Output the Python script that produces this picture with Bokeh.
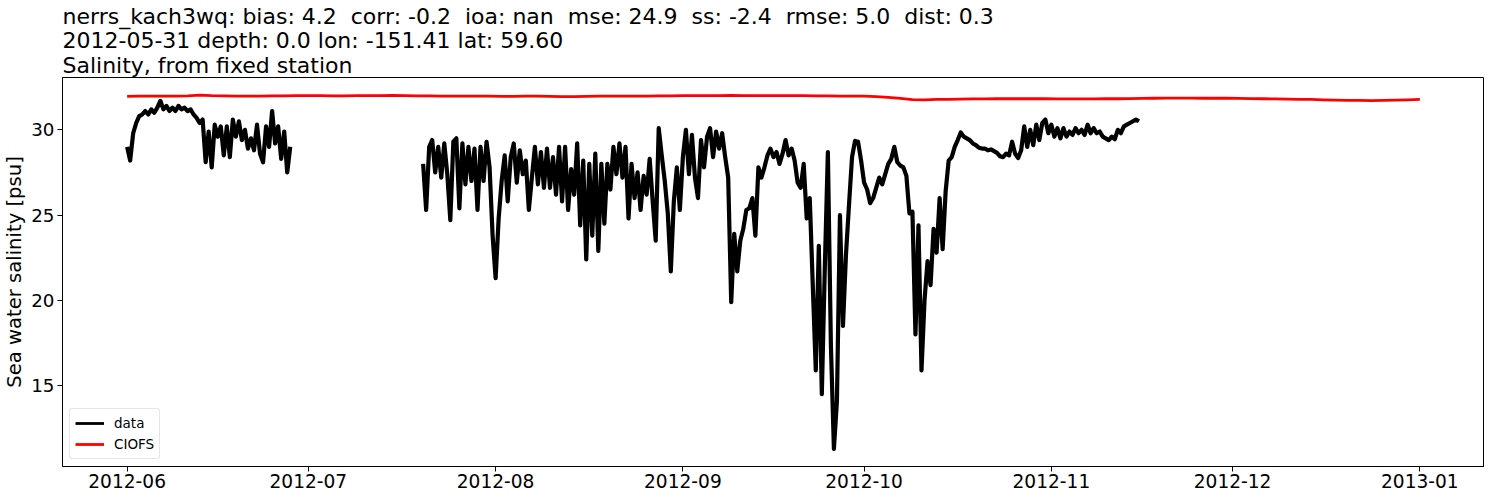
import numpy as np
import pandas as pd
from bokeh.plotting import figure
from bokeh.models import (Range1d, FixedTicker, DatetimeTickFormatter, Legend,
                          LegendItem)
from bokeh.embed import file_html
from bokeh.resources import INLINE

# ---------------- data ----------------
NB = "\u00a0"  # keeps the doubled spaces of the original title visible
title_lines = [
    f"nerrs_kach3wq: bias: 4.2 {NB}corr: -0.2 {NB}ioa: nan {NB}mse: 24.9 {NB}ss: -2.4 {NB}rmse: 5.0 {NB}dist: 0.3",
    "2012-05-31 depth: 0.0 lon: -151.41 lat: 59.60",
    "Salinity, from fixed station",
]
y_label = "Sea water salinity [psu]"
series_names = ["data", "CIOFS"]

# observed salinity, first deployment, 12-hourly from this start
obs1_start = "2012-06-01 00:00"
obs1_values = [
    29.0, 28.2, 29.8, 30.4, 30.8, 30.9, 31.1, 30.9, 31.2, 31.0,
    31.3, 31.7, 31.2, 31.4, 31.1, 31.3, 31.1, 31.4, 31.2, 31.3,
    31.1, 31.2, 30.9, 30.7, 30.4, 30.6, 28.1, 29.9, 27.8, 30.3,
    29.6, 30.2, 28.5, 30.2, 28.4, 30.6, 29.6, 30.5, 29.4, 30.0,
    28.9, 29.5, 28.8, 30.3, 28.6, 28.1, 30.2, 29.0, 31.1, 29.2,
    30.2, 28.3, 29.9, 27.5, 29.0,
]

# observed salinity, second deployment, 12-hourly from this start
obs2_start = "2012-07-20 00:00"
obs2_values = [
    28.0, 25.3, 29.0, 29.4, 27.5, 29.0, 27.2, 29.2, 27.4, 24.7,
    29.3, 29.5, 25.4, 29.2, 26.8, 29.0, 27.0, 28.9, 25.3, 29.0,
    27.0, 29.3, 27.8, 23.8, 21.3, 24.8, 27.0, 28.5, 25.8, 28.4,
    29.2, 26.9, 28.8, 27.4, 28.2, 25.3, 27.2, 29.0, 26.8, 28.7,
    26.6, 28.9, 26.6, 28.4, 26.2, 29.0, 25.8, 29.0, 25.3, 27.7,
    26.2, 29.2, 24.4, 28.2, 22.4, 28.0, 23.8, 28.6, 22.9, 28.0,
    24.5, 28.0, 26.5, 29.0, 27.4, 29.2, 27.2, 29.0, 24.8, 28.0,
    26.0, 27.5, 25.3, 27.3, 26.2, 28.3, 25.8, 23.5, 30.1, 28.5,
    27.0, 25.1, 21.7, 25.8, 27.8, 25.3, 28.4, 30.0, 27.4, 29.7,
    27.2, 26.0, 29.4, 27.8, 29.6, 30.1, 28.4, 29.9, 28.9, 29.8,
    28.4, 27.2, 19.9, 23.9, 21.7, 23.5, 24.2, 25.3, 25.4, 26.0,
    23.8, 27.8, 27.2, 27.8, 28.5, 28.9, 28.4, 28.7, 28.0, 28.6,
    29.4, 28.5, 28.9, 28.2, 26.9, 26.6, 28.0, 24.8, 26.0, 20.9,
    15.9, 23.2, 14.5, 22.0, 28.7, 17.4, 11.3, 14.1, 25.0, 18.5,
    22.7, 25.6, 28.4, 29.35, 29.3, 28.2, 26.9, 26.5, 25.7, 26.0,
    26.6, 27.2, 26.8, 27.4, 28.0, 28.3, 29.0, 28.1, 27.9, 27.8,
    27.3, 25.1, 25.2, 18.0, 24.4, 15.9, 20.0, 22.3, 20.9, 24.2,
    22.8, 26.0, 23.0, 26.4, 28.2, 28.4, 29.0, 29.4, 29.84, 29.6,
    29.5, 29.4, 29.2, 29.1, 28.95, 28.9, 28.9, 28.8, 28.85, 28.75,
    28.65, 28.45, 28.4, 28.6, 28.5, 29.3, 28.6, 28.35, 28.8, 30.2,
    29.0, 30.0, 29.1, 30.3, 29.4, 30.4, 30.6, 29.8, 30.3, 29.6,
    30.1, 29.5, 30.1, 29.6, 29.9, 29.7, 30.1, 29.8, 30.0, 29.7,
    30.3, 29.8, 30.1, 29.8, 29.9, 29.6, 29.5, 29.4, 29.6, 29.45,
    30.0, 29.8, 30.2, 30.3, 30.4, 30.5, 30.6, 30.5,
]

# CIOFS model salinity, every 2 days from this start
ciofs_start = "2012-06-01 00:00"
ciofs_values = [
    31.96, 31.97, 31.97, 31.98, 31.98, 31.99,
    32.03, 32.0, 31.99, 31.98, 31.98,
    31.98, 31.99, 31.99, 32.0, 32.0, 32.0, 31.99, 31.99, 32.0, 32.0,
    32.0, 32.01, 32.0, 31.99, 31.99, 31.98, 31.98, 31.97, 31.97, 31.97,
    31.96, 31.96, 31.97, 31.97, 31.96, 31.95, 31.95, 31.96, 31.97, 31.97,
    31.97, 31.98, 31.98, 31.99, 31.99,
    32.0, 32.0, 32.0, 32.0, 32.01, 32.0, 32.0, 32.0, 32.0, 32.0,
    32.0, 31.99, 31.99, 31.98, 31.97,
    31.97, 31.94, 31.9, 31.84, 31.77, 31.76, 31.78, 31.79,
    31.8, 31.81, 31.81, 31.82, 31.82, 31.82, 31.82, 31.82, 31.81, 31.81,
    31.81, 31.81, 31.82, 31.82, 31.83, 31.84, 31.85, 31.86, 31.86, 31.86,
    31.85, 31.85,
    31.85, 31.84, 31.83, 31.82, 31.81, 31.8, 31.79, 31.78, 31.76, 31.74,
    31.72, 31.73, 31.71, 31.72, 31.74, 31.76, 31.79,
]

y_ticks = [15, 20, 25, 30]
month_start, month_end = "2012-06-01", "2013-01-01"

# ---------------- build ----------------
def to_ms(idx):
    return (idx - pd.Timestamp("1970-01-01")) / pd.Timedelta(milliseconds=1)

t1 = to_ms(pd.date_range(obs1_start, periods=len(obs1_values), freq="12h")).to_numpy()
t2 = to_ms(pd.date_range(obs2_start, periods=len(obs2_values), freq="12h")).to_numpy()
tc = to_ms(pd.date_range(ciofs_start, periods=len(ciofs_values), freq="2D")).to_numpy()

x_obs = np.concatenate([t1, [t1[-1] + 6 * 3600e3], t2])
y_obs = np.concatenate([obs1_values, [np.nan], obs2_values])

all_x = np.concatenate([t1, t2, tc])
all_y = np.concatenate([obs1_values, obs2_values, ciofs_values])
xpad = 0.05 * (all_x.max() - all_x.min())
ypad = 0.05 * (all_y.max() - all_y.min())

FONT = "DejaVu Sans"

p = figure(width=1484, height=490, output_backend="svg", toolbar_location=None,
           x_axis_type="datetime",
           x_range=Range1d(all_x.min() - xpad, all_x.max() + xpad),
           y_range=Range1d(all_y.min() - ypad, all_y.max() + ypad),
           min_border_left=55, min_border_right=0, min_border_top=77,
           min_border_bottom=20)
p.background_fill_color = "white"
p.border_fill_color = "white"
p.outline_line_color = "black"
p.outline_line_width = 1
p.grid.visible = False

p.title.text = "\n".join(title_lines)
p.title.align = "left"
p.title.text_font = FONT
p.title.text_font_size = "22px"
p.title.text_font_style = "normal"
p.title.text_color = "black"
p.title.standoff = 0
p.title.text_line_height = 0.98

r_obs = p.line(x_obs, y_obs, color="black", line_width=4.2, line_join="round")
r_mod = p.line(tc, ciofs_values, color="red", line_width=2.8, line_join="round")
# legend swatches drawn at matplotlib's default thickness (no visible data)
leg_obs = p.line([tc[0]], [np.nan], color="black", line_width=2.8)
leg_mod = p.line([tc[0]], [np.nan], color="red", line_width=2.8)

months = to_ms(pd.date_range(month_start, month_end, freq="MS")).to_numpy()
p.xaxis.ticker = FixedTicker(ticks=list(months))
fmt = "%Y-%m"
p.xaxis.formatter = DatetimeTickFormatter(
    microseconds=fmt, milliseconds=fmt, seconds=fmt, minsec=fmt, minutes=fmt,
    hourmin=fmt, hours=fmt, days=fmt, months=fmt, years=fmt)
p.yaxis.ticker = FixedTicker(ticks=y_ticks)

for ax in (p.xaxis, p.yaxis):
    ax.axis_line_color = "black"
    ax.major_tick_line_color = "black"
    ax.major_tick_out = 5
    ax.major_tick_in = 0
    ax.minor_tick_out = 0
    ax.minor_tick_in = 0
    ax.major_label_text_font = FONT
    ax.major_label_text_color = "black"

p.xaxis.major_label_text_font_size = "18.6px"
p.xaxis.major_label_text_line_height = 1.0
p.xaxis.major_label_standoff = 2
p.yaxis.major_label_text_font_size = "18.3px"
p.yaxis.major_label_standoff = 3
p.yaxis.axis_label = y_label
p.yaxis.axis_label_text_font = FONT
p.yaxis.axis_label_text_font_size = "19.6px"
p.yaxis.axis_label_text_font_style = "normal"
p.yaxis.axis_label_text_color = "black"
p.yaxis.axis_label_text_line_height = 1.0
p.yaxis.axis_label_standoff = 2

legend = Legend(items=[LegendItem(label=series_names[0], renderers=[leg_obs]),
                       LegendItem(label=series_names[1], renderers=[leg_mod])],
                location="bottom_left")
legend.margin = 7
legend.padding = 5
legend.spacing = 3
legend.glyph_width = 29
legend.glyph_height = 18
legend.label_height = 18
legend.label_standoff = 10
legend.label_text_font = FONT
legend.label_text_font_size = "13.5px"
legend.label_text_color = "black"
legend.border_line_color = "#cccccc"
legend.border_line_width = 1
legend.background_fill_color = "white"
legend.background_fill_alpha = 0.8
try:
    legend.border_radius = 3
except Exception:
    pass
p.add_layout(legend)

open("out.html", "w").write(file_html(p, INLINE))
